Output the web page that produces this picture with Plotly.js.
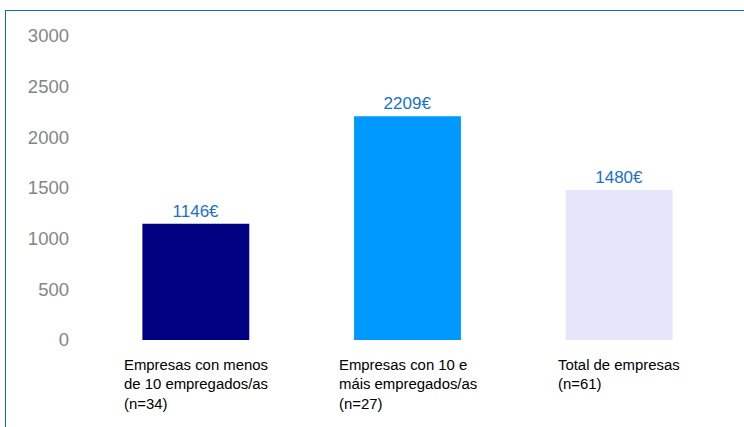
<!DOCTYPE html>
<html>
<head>
<meta charset="utf-8">
<script src="https://cdn.plot.ly/plotly-3.0.1.min.js"></script>
<style>
  html, body { margin: 0; padding: 0; background: #fff; }
  #wrap { position: relative; width: 744px; height: 427px; overflow: hidden; }
  #chart { position: absolute; left: 0; top: 0; width: 744px; height: 427px; }
  #frame { position: absolute; left: 5px; top: 10px; width: 800px; height: 500px;
           border-left: 1.5px solid #1466c8; border-top: 1.5px solid #1466c8; pointer-events: none; }
</style>
</head>
<body>
<div id="wrap">
  <div id="chart"></div>
  <div id="frame"></div>
</div>
<script>
const categories = ["A", "B", "C"];
const categoryLabels = [
  "Empresas con menos<br>de 10 empregados/as<br>(n=34)",
  "Empresas con 10 e<br>máis empregados/as<br>(n=27)",
  "Total de empresas<br>(n=61)"
];
const values = [1146, 2209, 1480];
const valueLabels = ["1146€", "2209€", "1480€"];
const barColors = ["#000080", "#0099ff", "#e6e6fa"];
const yTicks = [0, 500, 1000, 1500, 2000, 2500, 3000];

const trace = {
  type: "bar",
  x: categories,
  y: values,
  marker: { color: barColors },
  width: 0.505,
  text: valueLabels,
  textposition: "outside",
  cliponaxis: false,
  textfont: { family: "Liberation Sans, Arial, sans-serif", size: 17, color: "#1a6fd0" },
  hoverinfo: "none"
};

const annotations = categories.map((c, i) => ({
  x: c, xref: "x",
  y: 0, yref: "paper",
  yanchor: "top", xanchor: "center",
  yshift: -15,
  align: "left",
  showarrow: false,
  text: categoryLabels[i],
  font: { family: "Liberation Sans, Arial, sans-serif", size: 14.9, color: "#000" }
}));

const layout = {
  width: 744, height: 427,
  margin: { l: 89.5, r: 18.5, t: 36, b: 87, pad: 0 },
  paper_bgcolor: "#ffffff",
  plot_bgcolor: "#ffffff",
  showlegend: false,
  bargap: 0.495,
  xaxis: {
    type: "category",
    showticklabels: false,
    showgrid: false, zeroline: false, showline: false, ticks: ""
  },
  yaxis: {
    range: [0, 3000],
    tickvals: yTicks,
    ticktext: yTicks.map(String),
    showgrid: false, zeroline: false, showline: false, ticks: "",
    ticklabelstandoff: 20,
    tickfont: { family: "Liberation Sans, Arial, sans-serif", size: 18.5, color: "#858585" }
  },
  annotations: annotations
};

Plotly.newPlot("chart", [trace], layout, { displayModeBar: false, staticPlot: true });
</script>
</body>
</html>
